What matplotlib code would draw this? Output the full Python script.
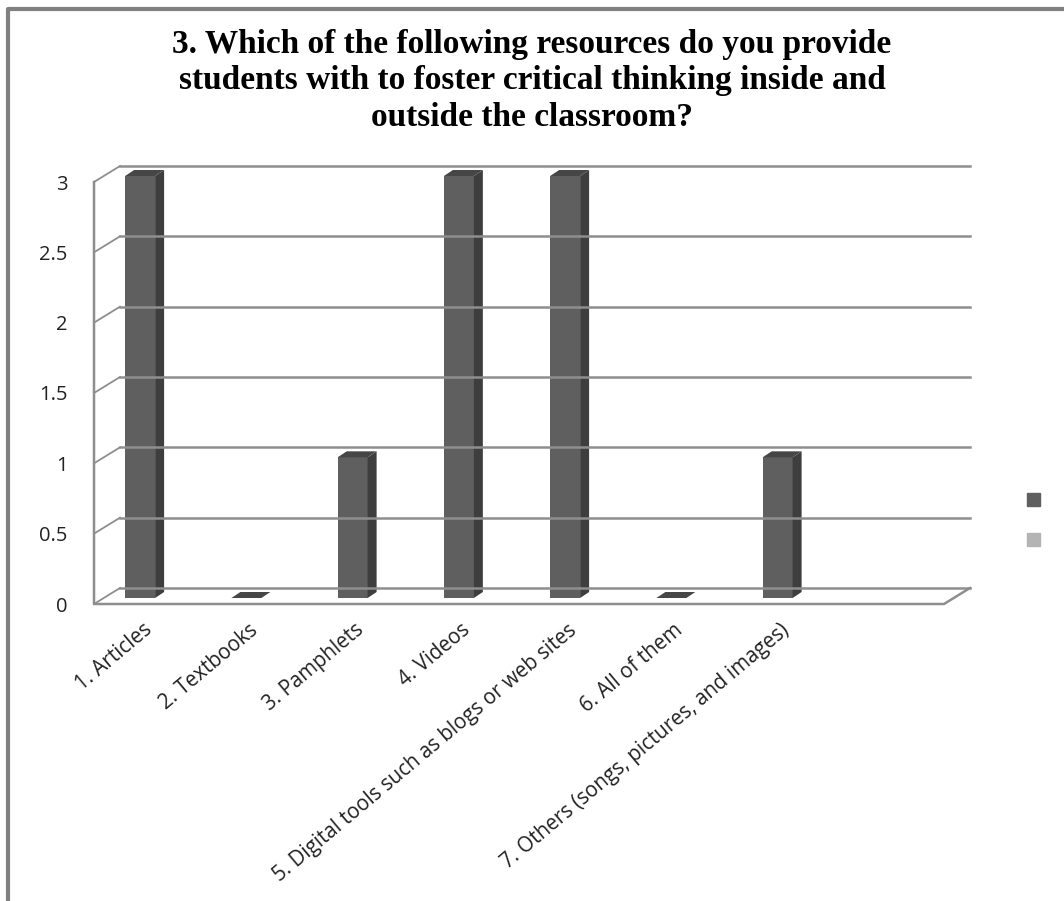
import numpy as np
import matplotlib
matplotlib.use("Agg")
import matplotlib.pyplot as plt
from matplotlib.patches import Polygon, Patch
from matplotlib.transforms import offset_copy, IdentityTransform, ScaledTranslation

title = ("3. Which of the following resources do you provide\n"
         "students with to foster critical thinking inside and\n"
         "outside the classroom?")
categories = ["1. Articles", "2. Textbooks", "3. Pamphlets", "4. Videos",
              "5. Digital tools such as blogs or web sites", "6. All of them",
              "7. Others (songs, pictures, and images)", ""]
counts = [3, 0, 1, 3, 3, 0, 1, np.nan]
yticks = [0, 0.5, 1, 1.5, 2, 2.5, 3]
yticklabels = ["0", "0.5", "1", "1.5", "2", "2.5", "3"]
series_colors = ["#5f5f5f", "#b4b4b4"]

DPI = 100
fig = plt.figure(figsize=(10.64, 9.01), dpi=DPI)

# front plane of the floor/axis
ax = fig.add_axes([94 / 1064, 297 / 901, 850 / 1064, 422 / 901])
ax.set_xlim(-0.34, 7.66)
ax.set_ylim(0, 3)
for s in ax.spines.values():
    s.set_visible(False)
ax.patch.set_visible(False)

wall = (26, 16)        # depth of the back wall in pixels
bar_front = (10, 6)    # where the bar front face sits
bar_back = (19, 12)    # where the bar back face sits
grid_c = "#8e8e8e"

def disp(x, y, off=(0, 0)):
    px, py = ax.transData.transform((x, y))
    return (px + off[0], py + off[1])

x0, x1 = ax.get_xlim()
# back wall gridlines and left wall diagonals
for t in yticks:
    a, b = disp(x0, t, wall), disp(x1, t, wall)
    fig.add_artist(plt.Line2D([a[0], b[0]], [a[1], b[1]], color=grid_c, lw=1.8,
                              transform=IdentityTransform()))
    f = disp(x0, t)
    fig.add_artist(plt.Line2D([f[0], a[0]], [f[1], a[1]], color=grid_c, lw=1.3,
                              transform=IdentityTransform()))
# front axis and floor
p0, p1, p2 = disp(x0, 3), disp(x0, 0), disp(x1, 0)
p3 = disp(x1, 0, wall)
fig.add_artist(plt.Line2D([p0[0], p1[0], p2[0], p3[0]], [p0[1], p1[1], p2[1], p3[1]],
                          color=grid_c, lw=1.8, transform=IdentityTransform()))

# bars: front face through ax.bar, side and top faces from the same values
x = np.arange(len(categories))
w = 0.282
front_tr = offset_copy(ax.transData, fig=fig, x=bar_front[0], y=bar_front[1], units="dots")
ax.bar(x, counts, w, color=series_colors[0], transform=front_tr, clip_on=False,
       edgecolor="none", zorder=3)
for xi, v in zip(x, counts):
    if np.isnan(v):
        continue
    l, r = xi - w / 2, xi + w / 2
    side = [disp(r, 0, bar_front), disp(r, 0, bar_back), disp(r, v, bar_back), disp(r, v, bar_front)]
    top = [disp(l, v, bar_front), disp(r, v, bar_front), disp(r, v, bar_back), disp(l, v, bar_back)]
    fig.add_artist(Polygon(side, closed=True, fc="#3e3e3e", ec="none", transform=IdentityTransform()))
    fig.add_artist(Polygon(top, closed=True, fc="#464646", ec="none", transform=IdentityTransform()))

ax.set_yticks(yticks)
ax.set_yticklabels(yticklabels, fontsize=14.5, family="Open Sans", color="#222222")
ax.tick_params(axis="y", length=0, pad=19)
ax.set_xticks(x)
ax.set_xticklabels(categories, rotation=40, ha="right", va="center",
                   rotation_mode="anchor", fontsize=14.8, family="Open Sans", color="#222222")
ax.tick_params(axis="x", length=0, pad=17)
shift = ScaledTranslation(19 / DPI, 0, fig.dpi_scale_trans)
for lab in ax.get_xticklabels():
    lab.set_transform(lab.get_transform() + shift)

fig.text(0.5, 1 - 29 / 901, title, ha="center", va="top", fontsize=24,
         family="Liberation Serif", fontweight="bold", linespacing=1.22)

handles = [Patch(color=c) for c in series_colors]
ax.legend(handles, ["", ""], loc="center left", bbox_to_anchor=(1028 / 1064 - 0.016, 1 - 521 / 901),
          bbox_transform=fig.transFigure, frameon=False, fontsize=13,
          handlelength=0.7, handleheight=0.7, labelspacing=1.22, handletextpad=0)

# chart border (left and top only)
fig.add_artist(plt.Line2D([8, 8, 1064], [0, 892, 892], color="#808080", lw=3,
                          transform=IdentityTransform()))

fig.savefig("out.png", dpi=DPI)
